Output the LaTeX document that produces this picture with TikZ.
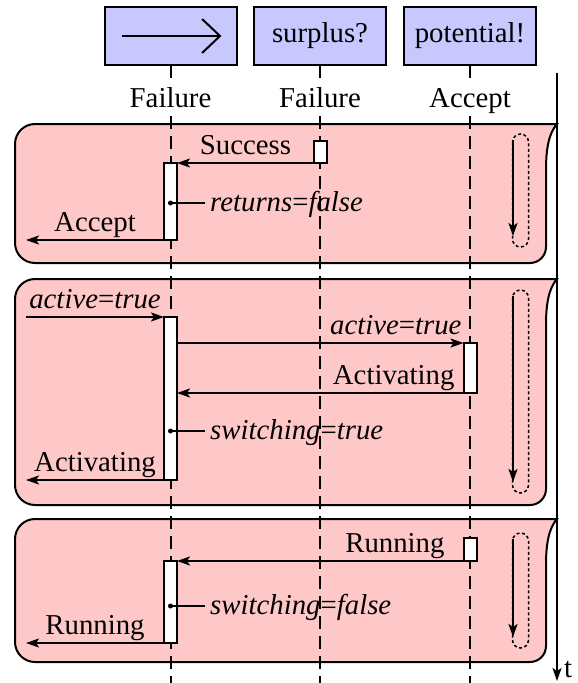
\documentclass[tikz,border=0pt]{standalone}
\usepackage{fontspec}
\setmainfont{Liberation Serif}
\usetikzlibrary{arrows.meta}
\definecolor{framered}{RGB}{255,200,200}
\definecolor{boxblue}{RGB}{200,200,255}
\begin{document}
\begin{tikzpicture}[x=1pt,y=-1pt,
  every node/.style={font=\fontsize{28.8}{34}\selectfont},
  topbox/.style={draw, line width=2pt, fill=boxblue, minimum width=132pt, minimum height=58pt, inner sep=0pt},
  lifelbl/.style={anchor=base, inner sep=0pt, text height=29pt, text depth=9pt},
  lifeline/.style={line width=2pt, dash pattern=on 13pt off 7pt},
  act/.style={draw, fill=white, line width=2pt, minimum width=13pt, inner sep=0pt, outer sep=0pt},
  msg/.style={line width=2pt, -{Stealth[length=13pt,width=9pt,inset=3pt]}},
  symarrow/.style={line width=2pt, -{Straight Barb[length=18pt,width=34pt,line width=2pt]}},
  lab/.style={anchor=base, inner sep=0pt, yshift=9pt},
  rlab/.style={anchor=base east, inner sep=0pt, yshift=9pt},
  note/.style={anchor=base west, inner sep=5pt},
  notelink/.style={line width=1.5pt},
  dotmark/.style={circle, fill, inner sep=0pt, minimum size=5pt},
  frame/.style={draw, fill=framered, line width=2pt},
  loopbox/.style={line width=1.5pt, dash pattern=on 3pt off 2.5pt, rounded corners=8pt},
]
\useasboundingbox (0,0) rectangle (578,683);

% frames
\path[frame] (557,124) .. controls (549,133) and (546,148) .. (546,170) -- (546,247)
  arc[start angle=0,end angle=90,radius=16] -- (35,263)
  arc[start angle=90,end angle=180,radius=20] -- (15,144)
  arc[start angle=180,end angle=270,radius=20] -- cycle;
\path[frame] (557,279) .. controls (549,288) and (546,303) .. (546,325) -- (546,489)
  arc[start angle=0,end angle=90,radius=16] -- (35,505)
  arc[start angle=90,end angle=180,radius=20] -- (15,299)
  arc[start angle=180,end angle=270,radius=20] -- cycle;
\path[frame] (557,519) .. controls (549,528) and (546,543) .. (546,565) -- (546,646)
  arc[start angle=0,end angle=90,radius=16] -- (35,662)
  arc[start angle=90,end angle=180,radius=20] -- (15,539)
  arc[start angle=180,end angle=270,radius=20] -- cycle;

% loop marks
\draw[loopbox] (512.5,134) rectangle (528.5,247);
\draw[msg] (513,140) -- (513,236);
\draw[loopbox] (512.5,290) rectangle (528.5,493);
\draw[msg] (513,296) -- (513,482);
\draw[loopbox] (512.5,533) rectangle (528.5,648);
\draw[msg] (513,539) -- (513,637);

% heads
\node[topbox] (b1) at (170.5,36) {};
\draw[symarrow] ([xshift=18pt]b1.west) -- ([xshift=-16pt]b1.east);
\node[topbox] (b2) at (320,36) {surplus?};
\node[topbox] (b3) at (470,36) {potential!};

\node[lifelbl] (l1) at (170.5,107) {Failure};
\node[lifelbl] (l2) at (320,107) {Failure};
\node[lifelbl] (l3) at (470,107) {Accept};

\coordinate (e1) at (170.5,683);
\coordinate (e2) at (320,683);
\coordinate (e3) at (470,683);
\draw[lifeline] (b1.south) -- (l1.north);
\draw[lifeline] (l1.south) -- (e1);
\draw[lifeline] (b2.south) -- (l2.north);
\draw[lifeline] (l2.south) -- (e2);
\draw[lifeline] (b3.south) -- (l3.north);
\draw[lifeline] (l3.south) -- (e3);

% frame 1
\node[act, minimum height=22pt] (s1) at (320.5,152) {};
\node[act, minimum height=77pt] (a1) at (170.5,201.5) {};
\draw[msg] (s1.south west) -- node[lab, pos=0.5] {Success} (a1.north east);
\coordinate (o1) at (26,240);
\draw[msg] (a1.south west) -- node[lab, pos=0.5] {Accept} (o1);
\node[dotmark] (d1) at (170.5,203) {};
\node[note] (n1) at (205,211) {\textit{returns}=\textit{false}};
\draw[notelink] (d1.center) -- (n1.west |- d1.center);

% frame 2
\coordinate (i2) at (26,317);
\node[act, minimum height=163pt] (a2) at (170.5,398.5) {};
\node[act, minimum height=50pt] (a3) at (470,368) {};
\draw[msg] (i2) -- node[lab, pos=0.5] {\textit{active}=\textit{true}} (a2.north west);
\draw[msg] (a2.east |- a3.north west) -- node[rlab, pos=1, xshift=-1pt] {\textit{active}=\textit{true}} (a3.north west);
\draw[msg] (a3.south west) -- node[rlab, pos=0, xshift=-8pt] {Activating} (a2.east |- a3.south west);
\node[dotmark] (d2) at (170.5,431) {};
\node[note] (n2) at (205,439) {\textit{switching}=\textit{true}};
\draw[notelink] (d2.center) -- (n2.west |- d2.center);
\coordinate (o2) at (26,480);
\draw[msg] (a2.south west) -- node[lab, pos=0.5] {Activating} (o2);

% frame 3
\node[act, minimum height=23pt] (s3) at (470,549.5) {};
\node[act, minimum height=82pt] (a4) at (170.5,602) {};
\draw[msg] (s3.south west) -- node[rlab, pos=0, xshift=-18pt] {Running} (a4.north east);
\node[dotmark] (d3) at (170.5,606) {};
\node[note] (n3) at (205,614) {\textit{switching}=\textit{false}};
\draw[notelink] (d3.center) -- (n3.west |- d3.center);
\coordinate (o3) at (26,643);
\draw[msg] (a4.south west) -- node[lab, pos=0.5] {Running} (o3);

% time axis
\coordinate (ta) at (557,73);
\coordinate (tb) at (557,681);
\draw[msg] (ta) -- (tb);
\node[anchor=base west, inner sep=0pt] (tl) at (564,677) {t};
\end{tikzpicture}
\end{document}
